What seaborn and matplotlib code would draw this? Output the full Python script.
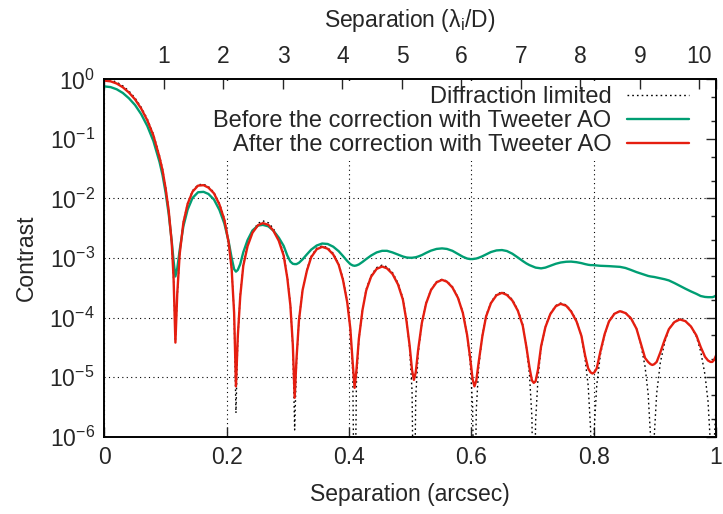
import numpy as np
import pandas as pd
import matplotlib
matplotlib.use("Agg")
import matplotlib.pyplot as plt
import seaborn as sns
from matplotlib.ticker import LogLocator, NullFormatter

# separation in arcsec (shared by the three curves), one line per lobe
sep = [0.0, 0.01, 0.02, 0.03, 0.04, 0.05, 0.06, 0.07, 0.08, 0.09, 0.095, 0.1, 0.105, 0.11, 0.113, 0.116,
       0.119, 0.123, 0.129, 0.136, 0.144, 0.153, 0.162, 0.170, 0.179, 0.188, 0.196, 0.203, 0.208, 0.212, 0.215,
       0.218, 0.222, 0.227, 0.234, 0.242, 0.251, 0.259, 0.268, 0.276, 0.285, 0.293, 0.299, 0.304, 0.308, 0.311,
       0.314, 0.318, 0.324, 0.331, 0.338, 0.347, 0.356, 0.365, 0.374, 0.383, 0.390, 0.397, 0.402, 0.406, 0.409,
       0.412, 0.416, 0.422, 0.428, 0.436, 0.445, 0.454, 0.462, 0.471, 0.480, 0.488, 0.494, 0.499, 0.503, 0.506,
       0.509, 0.513, 0.519, 0.526, 0.534, 0.543, 0.552, 0.560, 0.569, 0.578, 0.586, 0.593, 0.598, 0.602, 0.605,
       0.608, 0.612, 0.618, 0.624, 0.632, 0.641, 0.650, 0.658, 0.667, 0.676, 0.684, 0.690, 0.695, 0.699, 0.702,
       0.705, 0.709, 0.714, 0.721, 0.729, 0.738, 0.746, 0.755, 0.763, 0.772, 0.780, 0.786, 0.791, 0.795, 0.798,
       0.801, 0.805, 0.811, 0.818, 0.825, 0.834, 0.843, 0.852, 0.861, 0.870, 0.877, 0.884, 0.889, 0.893, 0.896,
       0.899, 0.903, 0.909, 0.916, 0.923, 0.932, 0.941, 0.950, 0.959, 0.968, 0.975, 0.982, 0.987, 0.991, 0.994,
       0.997, 1.0]

diffraction = [1.0, 0.973, 0.896, 0.775, 0.635, 0.484, 0.340, 0.216, 0.120, 0.052, 0.031, 0.0155, 0.0066, 0.0018, 4.4e-4, 4.0e-5,
               2.3e-4, 1.2e-3, 4.0e-3, 8.4e-3, 1.35e-2, 1.70e-2, 1.73e-2, 1.58e-2, 1.26e-2, 8.2e-3, 4.6e-3, 1.9e-3, 6.7e-4, 1.2e-4, 2.5e-6,
               4.4e-5, 2.35e-4, 7.8e-4, 1.68e-3, 2.8e-3, 3.8e-3, 4.2e-3, 3.9e-3, 3.15e-3, 2.1e-3, 1.18e-3, 4.9e-4, 1.7e-4, 3.2e-5, 1.3e-6,
               1.7e-5, 9.0e-5, 3.0e-4, 6.4e-4, 1.07e-3, 1.46e-3, 1.6e-3, 1.49e-3, 1.2e-3, 8.0e-4, 4.5e-4, 1.87e-4, 6.6e-5, 1.2e-5, 1e-8,
               8.0e-6, 4.3e-5, 1.4e-4, 3.0e-4, 5.1e-4, 6.9e-4, 7.6e-4, 7.1e-4, 5.7e-4, 3.8e-4, 2.1e-4, 8.9e-5, 3.1e-5, 5.8e-6, 1e-8,
               4.6e-6, 2.5e-5, 8.1e-5, 1.76e-4, 2.95e-4, 4.0e-4, 4.4e-4, 4.1e-4, 3.3e-4, 2.2e-4, 1.23e-4, 5.1e-5, 1.8e-5, 3.3e-6, 1e-8,
               2.8e-6, 1.5e-5, 5.0e-5, 1.08e-4, 1.81e-4, 2.46e-4, 2.7e-4, 2.5e-4, 2.0e-4, 1.35e-4, 7.6e-5, 3.2e-5, 1.1e-5, 2.1e-6, 1e-8,
               1.8e-6, 9.8e-6, 3.2e-5, 7.0e-5, 1.17e-4, 1.59e-4, 1.75e-4, 1.63e-4, 1.31e-4, 8.8e-5, 4.9e-5, 2.0e-5, 7.2e-6, 1.3e-6, 1e-8,
               1.4e-6, 7.3e-6, 2.4e-5, 5.2e-5, 8.7e-5, 1.18e-4, 1.3e-4, 1.21e-4, 9.8e-5, 6.5e-5, 3.6e-5, 1.5e-5, 5.3e-6, 1.0e-6, 1e-8,
               1.0e-6, 5.3e-6, 1.76e-5, 3.8e-5, 6.4e-5, 8.6e-5, 9.5e-5, 8.8e-5, 7.1e-5, 4.8e-5, 2.7e-5, 1.1e-5, 3.9e-6, 7.2e-7, 1e-8,
               8e-7, 3e-6]

before_ao = [0.76, 0.74, 0.68, 0.59, 0.48, 0.37, 0.26, 0.165, 0.092, 0.041, 0.0245, 0.0125, 0.0055, 0.0019, 9.0e-4, 4.9e-4,
             6.7e-4, 1.36e-3, 3.4e-3, 6.5e-3, 1.02e-2, 1.27e-2, 1.29e-2, 1.19e-2, 9.6e-3, 6.4e-3, 3.8e-3, 1.9e-3, 1.0e-3, 6.5e-4, 5.9e-4,
             6.3e-4, 7.9e-4, 1.25e-3, 2.0e-3, 2.9e-3, 3.5e-3, 3.6e-3, 3.4e-3, 2.9e-3, 2.2e-3, 1.6e-3, 1.1e-3, 8.7e-4, 8.0e-4, 7.9e-4,
             7.9e-4, 8.3e-4, 9.5e-4, 1.15e-3, 1.38e-3, 1.62e-3, 1.75e-3, 1.72e-3, 1.55e-3, 1.3e-3, 1.08e-3, 8.9e-4, 7.9e-4, 7.5e-4, 7.4e-4,
             7.5e-4, 7.8e-4, 8.6e-4, 9.6e-4, 1.1e-3, 1.24e-3, 1.32e-3, 1.32e-3, 1.24e-3, 1.14e-3, 1.06e-3, 1.02e-3, 1.01e-3, 1.01e-3, 1.02e-3,
             1.03e-3, 1.06e-3, 1.12e-3, 1.22e-3, 1.33e-3, 1.42e-3, 1.45e-3, 1.42e-3, 1.32e-3, 1.17e-3, 1.05e-3, 9.8e-4, 9.6e-4, 9.6e-4, 9.7e-4,
             9.8e-4, 1.01e-3, 1.07e-3, 1.15e-3, 1.26e-3, 1.34e-3, 1.36e-3, 1.31e-3, 1.18e-3, 1.02e-3, 8.9e-4, 8.1e-4, 7.6e-4, 7.3e-4, 7.1e-4,
             6.9e-4, 6.8e-4, 6.7e-4, 6.9e-4, 7.4e-4, 8.0e-4, 8.4e-4, 8.65e-4, 8.7e-4, 8.5e-4, 8.2e-4, 7.9e-4, 7.7e-4, 7.6e-4, 7.6e-4,
             7.55e-4, 7.5e-4, 7.4e-4, 7.35e-4, 7.3e-4, 7.2e-4, 7.1e-4, 6.8e-4, 6.3e-4, 5.8e-4, 5.5e-4, 5.2e-4, 5.0e-4, 4.9e-4, 4.85e-4,
             4.8e-4, 4.7e-4, 4.55e-4, 4.4e-4, 4.2e-4, 3.8e-4, 3.4e-4, 3.05e-4, 2.75e-4, 2.5e-4, 2.3e-4, 2.22e-4, 2.2e-4, 2.2e-4, 2.2e-4,
             2.25e-4, 2.35e-4]

after_ao = [0.95, 0.925, 0.85, 0.735, 0.60, 0.46, 0.323, 0.205, 0.114, 0.049, 0.0295, 0.0147, 0.0063, 0.0018, 4.6e-4, 3.8e-5,
            2.5e-4, 1.16e-3, 3.9e-3, 8.1e-3, 1.3e-2, 1.64e-2, 1.67e-2, 1.52e-2, 1.22e-2, 7.9e-3, 4.4e-3, 1.83e-3, 6.5e-4, 1.2e-4, 7e-6,
            4.8e-5, 2.25e-4, 7.4e-4, 1.58e-3, 2.65e-3, 3.55e-3, 3.85e-3, 3.6e-3, 2.9e-3, 1.95e-3, 1.1e-3, 4.6e-4, 1.6e-4, 3.5e-5, 4.5e-6,
            2.0e-5, 8.9e-5, 2.9e-4, 6.1e-4, 1.03e-3, 1.4e-3, 1.54e-3, 1.43e-3, 1.15e-3, 7.7e-4, 4.3e-4, 1.8e-4, 6.6e-5, 1.7e-5, 6.6e-6,
            1.3e-5, 4.4e-5, 1.35e-4, 2.85e-4, 4.85e-4, 6.55e-4, 7.2e-4, 6.7e-4, 5.4e-4, 3.6e-4, 2.0e-4, 8.6e-5, 3.4e-5, 1.3e-5, 9e-6,
            1.2e-5, 2.9e-5, 8.1e-5, 1.73e-4, 2.9e-4, 3.9e-4, 4.3e-4, 4.0e-4, 3.2e-4, 2.15e-4, 1.2e-4, 5.1e-5, 2.1e-5, 9.2e-6, 7e-6,
            8.7e-6, 1.8e-5, 4.9e-5, 1.04e-4, 1.75e-4, 2.37e-4, 2.6e-4, 2.4e-4, 1.93e-4, 1.3e-4, 7.3e-5, 3.2e-5, 1.45e-5, 8.8e-6, 8e-6,
            8.5e-6, 1.35e-5, 3.3e-5, 6.9e-5, 1.14e-4, 1.55e-4, 1.7e-4, 1.58e-4, 1.27e-4, 8.6e-5, 4.9e-5, 2.3e-5, 1.4e-5, 1.2e-5, 1.15e-5,
            1.2e-5, 1.4e-5, 2.7e-5, 5.3e-5, 8.6e-5, 1.16e-4, 1.28e-4, 1.19e-4, 9.7e-5, 6.5e-5, 3.7e-5, 2.1e-5, 1.8e-5, 1.65e-5, 1.6e-5,
            1.65e-5, 1.8e-5, 2.6e-5, 4.2e-5, 6.4e-5, 8.4e-5, 9.3e-5, 8.7e-5, 7.1e-5, 5.0e-5, 3.2e-5, 2.2e-5, 1.9e-5, 1.8e-5, 1.8e-5,
            1.95e-5, 2.3e-5]

labels = ["Diffraction limited",
          "Before the correction with Tweeter AO",
          "After the correction with Tweeter AO"]

lam_over_d = 0.0973  # arcsec per lambda_i/D
top_ticks = [1, 2, 3, 4, 5, 6, 7, 8, 9, 10]

df = pd.DataFrame({"sep": sep, "diff": diffraction, "before": before_ao, "after": after_ao})

sns.set_style("white")
plt.rcParams["font.family"] = ["Liberation Sans", "DejaVu Sans"]
plt.rcParams["font.size"] = 16.5
plt.rcParams["mathtext.default"] = "regular"

fig = plt.figure(figsize=(7.23, 5.14), dpi=100)
ax = fig.add_axes([0.1445, 0.1504, 0.8458, 0.6953])

sns.lineplot(data=df, x="sep", y="diff", ax=ax, color="black", lw=1.0,
             linestyle=(0, (1.2, 2.2)), label=labels[0])
sns.lineplot(data=df, x="sep", y="before", ax=ax, color="#009e73", lw=1.7, label=labels[1])
sns.lineplot(data=df, x="sep", y="after", ax=ax, color="#e51e10", lw=1.7, label=labels[2])

ax.set_yscale("log")
ax.set_xlim(0, 1)
ax.set_ylim(1e-6, 1)
ax.set_xticks([0, 0.2, 0.4, 0.6, 0.8, 1.0])
ax.set_xticklabels(["0", "0.2", "0.4", "0.6", "0.8", "1"])
ax.yaxis.set_major_locator(LogLocator(base=10, numticks=10))
ax.yaxis.set_minor_locator(LogLocator(base=10, subs=[2, 5], numticks=10))
ax.yaxis.set_minor_formatter(NullFormatter())

# grid
ax.xaxis.grid(True, linestyle=(0, (1, 3)), color="black", lw=0.8)
for lev in [1e-2, 1e-3, 1e-4, 1e-5]:
    ax.axhline(lev, linestyle=(0, (1, 3)), color="black", lw=0.8, zorder=0.5)

ax.set_xlabel("Separation (arcsec)", labelpad=10)
ax.set_ylabel("Contrast", labelpad=8)

# top axis in lambda/D
ax2 = ax.twiny()
ax2.set_xlim(0, 1 / lam_over_d)
ax2.set_xticks(top_ticks)
ax2.set_xlabel("Separation (λ$_{i}$/D)", labelpad=13)
ax2.tick_params(axis="x", direction="in", length=7, width=1, pad=8)

ax.tick_params(which="major", direction="in", length=7, width=1, top=True, right=True, pad=7)
ax.tick_params(which="minor", direction="in", length=3.5, width=1, top=True, right=True)
ax.tick_params(axis="x", labeltop=False)

for a in (ax, ax2):
    for s in a.spines.values():
        s.set_linewidth(1.2)
        s.set_color("black")

leg = ax.legend(loc="upper right", bbox_to_anchor=(0.963, 0.995), markerfirst=False,
                frameon=True, fancybox=False, edgecolor="none", facecolor="white",
                framealpha=1.0, borderaxespad=0.0, borderpad=0.2, labelspacing=0.09,
                handlelength=2.63, handletextpad=0.64, fontsize=17)
leg.set_zorder(5)

fig.savefig("out.png", dpi=100)
